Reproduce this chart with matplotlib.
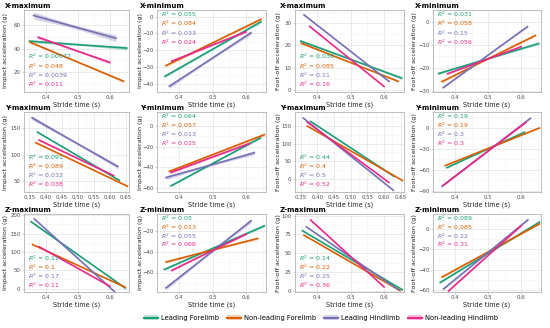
import numpy as np
import matplotlib
matplotlib.use("Agg")
import matplotlib.pyplot as plt
from matplotlib.lines import Line2D
from matplotlib.patches import Patch
from matplotlib.ticker import MultipleLocator

# series: Leading Forelimb, Non-leading Forelimb, Leading Hindlimb, Non-leading Hindlimb
series_names = ["Leading Forelimb", "Non-leading Forelimb", "Leading Hindlimb", "Non-leading Hindlimb"]
series_colors = ["#1b9e77", "#d95f02", "#7570b3", "#e7298a"]

titles = ["X-maximum", "X-minimum", "X-maximum", "X-minimum",
          "Y-maximum", "Y-minimum", "Y-maximum", "Y-minimum",
          "Z-maximum", "Z-minimum", "Z-maximum", "Z-minimum"]
ylabels = ["Impact acceleration (g)", "Impact acceleration (g)",
           "Foot-off acceleration (g)", "Foot-off acceleration (g)"]

# regression line ends (stride time, acceleration)
x_start = [[0.350, 0.352, 0.363, 0.377], [0.357, 0.360, 0.370, 0.377],
           [0.350, 0.352, 0.360, 0.377], [0.350, 0.360, 0.364, 0.377],
           [0.375, 0.370, 0.358, 0.380], [0.375, 0.370, 0.360, 0.375],
           [0.380, 0.370, 0.358, 0.370], [0.375, 0.370, 0.360, 0.365],
           [0.355, 0.360, 0.365, 0.380], [0.355, 0.360, 0.360, 0.377],
           [0.355, 0.360, 0.367, 0.380], [0.355, 0.360, 0.365, 0.380]]
x_end = [[0.653, 0.643, 0.619, 0.600], [0.645, 0.645, 0.615, 0.600],
         [0.653, 0.643, 0.615, 0.600], [0.653, 0.643, 0.619, 0.600],
         [0.630, 0.655, 0.625, 0.612], [0.643, 0.655, 0.625, 0.610],
         [0.630, 0.655, 0.628, 0.615], [0.610, 0.655, 0.628, 0.615],
         [0.648, 0.648, 0.615, 0.600], [0.655, 0.635, 0.615, 0.600],
         [0.655, 0.648, 0.643, 0.600], [0.655, 0.655, 0.620, 0.600]]
y_start = [[46.4, 45.5, 68.3, 49.7], [-35.6, -29.2, -41.6, -26.6],
           [22.0, 21.0, 33.8, 28.6], [-22.5, -26.0, -28.6, -22.6],
           [143, 123, 170, 128], [-58, -44, -50, -45],
           [163, 150, 172.6, 161], [-57, -54, -84, -82],
           [182, 120, 190, 114], [-57, -49.7, -75, -58],
           [80, 74, 85, 94], [-52.6, -47.4, -59, -61]]
y_end = [[40.5, 12.2, 48.9, 28.3], [-3.0, -1.5, -9.6, -9.0],
         [5.3, 3.8, 3.8, 1.5], [-9.5, -6.0, -2.2, -10.9],
         [52, 41, 78, 61], [-11.6, -8.4, -26, -17],
         [6.6, -5, -33, -11], [-6, 0, 14, 8.4],
         [2, 4, -8, 7], [-14.5, -26.8, -9.7, -22.6],
         [2, 1, 2, 5.7], [6.5, 4.8, 8.7, 3]]
# half width of the confidence band at the line ends
band_width = [[1.5, 1.0, 3.0, 1.5], [0.8, 0.8, 1.2, 0.8],
              [0.6, 0.4, 0.4, 0.3], [0.5, 0.5, 0.3, 0.3],
              [1.5, 1.5, 4.0, 2.0], [1.0, 1.5, 2.0, 1.2],
              [1.5, 1.2, 1.0, 1.0], [0.8, 0.8, 0.8, 0.8],
              [2.0, 2.0, 1.5, 1.5], [1.2, 1.2, 2.0, 1.0],
              [0.8, 0.8, 0.8, 0.6], [0.8, 0.8, 0.6, 0.6]]
r2_labels = [["0.00077", "0.048", "0.0039", "0.011"], ["0.055", "0.084", "0.033", "0.024"],
             ["0.036", "0.085", "0.11", "0.16"], ["0.031", "0.058", "0.15", "0.056"],
             ["0.091", "0.089", "0.032", "0.038"], ["0.064", "0.057", "0.013", "0.025"],
             ["0.44", "0.4", "0.5", "0.52"], ["0.19", "0.19", "0.3", "0.3"],
             ["0.11", "0.1", "0.17", "0.11"], ["0.05", "0.013", "0.055", "0.066"],
             ["0.14", "0.22", "0.25", "0.36"], ["0.089", "0.085", "0.22", "0.31"]]
label_top = [False, True, False, True, False, True, False, True, False, True, False, True]
ylims = [(3, 73), (-45, 4), (-1, 36), (-30.5, 5),
         (30, 181), (-64, 13.5), (-38, 190), (-92, 23),
         (-9, 203), (-79, -3), (-1, 102), (-62, 14.5)]
ysteps = [20, 10, 10, 10, 50, 20, 50, 30, 50, 20, 25, 20]
xsteps = [0.1, 0.1, 0.1, 0.1, 0.05, 0.1, 0.05, 0.1, 0.1, 0.1, 0.1, 0.1]

W, H = 550, 328
fig = plt.figure(figsize=(5.5, 3.28), dpi=100)

col_left = [24, 157, 295, 433]
col_width = [105, 109, 109, 108]
col_title = [5, 140, 280, 415]
col_ylab = [-0.155, -0.13, -0.13, -0.145]
row_top = [10, 112, 214]
row_bottom = [92, 192, 292]

for p in range(12):
    r, c = divmod(p, 4)
    ax = fig.add_axes([col_left[c] / W, 1 - row_bottom[r] / H,
                       col_width[c] / W, (row_bottom[r] - row_top[r]) / H])
    ax.set_xlim(0.333, 0.66)
    ax.set_ylim(*ylims[p])
    ax.xaxis.set_major_locator(MultipleLocator(xsteps[p]))
    ax.xaxis.set_minor_locator(MultipleLocator(xsteps[p] / 2))
    ax.yaxis.set_major_locator(MultipleLocator(ysteps[p]))
    ax.yaxis.set_minor_locator(MultipleLocator(ysteps[p] / 2))
    ax.grid(which="major", color="#e3e3e3", lw=0.5)
    ax.grid(which="minor", color="#f2f2f2", lw=0.4)
    ax.set_axisbelow(True)
    for s in ax.spines.values():
        s.set_color("#b3b3b3")
        s.set_linewidth(0.6)
    ax.tick_params(which="major", labelsize=3.9, labelcolor="#4d4d4d", color="#b3b3b3",
                   length=1.5, width=0.4, pad=1)
    ax.tick_params(which="minor", length=0)
    if xsteps[p] < 0.1:
        ax.xaxis.set_major_formatter(lambda v, pos: f"{v:.2f}")
    else:
        ax.xaxis.set_major_formatter(lambda v, pos: f"{v:.1f}")
    ax.set_ylabel(ylabels[c], fontsize=4.6, color="#222222")
    ax.yaxis.set_label_coords(col_ylab[c], 0.5)
    ax.set_xlabel("Stride time (s)", fontsize=4.7, color="#222222", labelpad=0.8)
    fig.text(col_title[c] / W, 1 - (row_top[r] - 4.5) / H, titles[p],
             fontsize=5, fontweight="bold", va="center", ha="left")

    for k in range(4):
        xs = np.linspace(x_start[p][k], x_end[p][k], 40)
        ys = np.linspace(y_start[p][k], y_end[p][k], 40)
        t = np.linspace(-1, 1, 40)
        hw = band_width[p][k] * np.sqrt(0.3 + 0.7 * t ** 2)
        ax.fill_between(xs, ys - hw, ys + hw, color=series_colors[k], alpha=0.3, lw=0)
        ax.plot(xs, ys, color=series_colors[k], lw=1.2)

        if label_top[p]:
            ly = 0.945 - 0.113 * k
        else:
            ly = 0.43 - 0.113 * k
        ax.text(0.04, ly, r"$R^2$ = " + r2_labels[p][k], transform=ax.transAxes,
                color=series_colors[k], fontsize=4.5, va="center", ha="left")

handles = [(Patch(facecolor=col, alpha=0.3, edgecolor="none"), Line2D([], [], color=col, lw=1.5))
           for col in series_colors]
fig.legend(handles, series_names, loc="center", bbox_to_anchor=(0.584, 1 - 318 / H),
           ncol=4, frameon=False, fontsize=4.9, handlelength=2.0, columnspacing=1.2,
           handletextpad=0.5)

fig.savefig("out.png", dpi=100)
